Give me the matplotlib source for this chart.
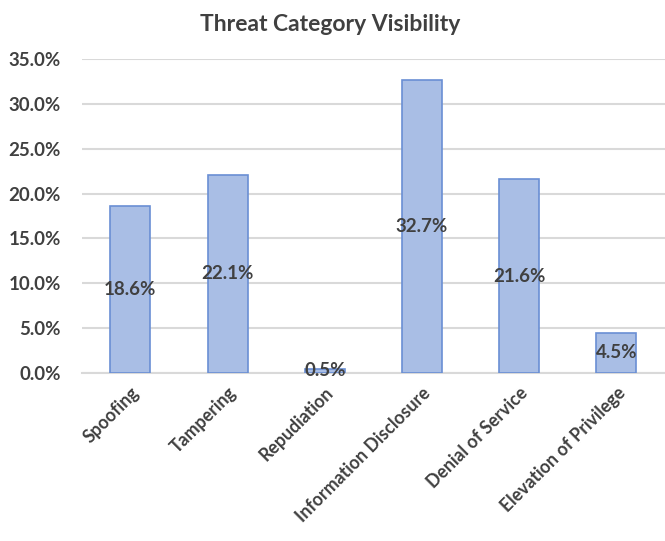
import matplotlib
matplotlib.use('Agg')
import matplotlib.pyplot as plt
from matplotlib.ticker import PercentFormatter

categories = ['Spoofing', 'Tampering', 'Repudiation', 'Information Disclosure',
              'Denial of Service', 'Elevation of Privilege']
values = [18.6, 22.1, 0.5, 32.7, 21.6, 4.5]
yticks = [0, 5, 10, 15, 20, 25, 30, 35]

plt.rcParams['font.family'] = ['Lato', 'DejaVu Sans']
text_color = '#404040'

fig = plt.figure(figsize=(6.65, 5.41), dpi=100)
ax = fig.add_axes([0.123, 0.3105, 0.877, 0.5805])

x = range(len(categories))
bars = ax.bar(x, values, width=0.41, color='#a9bee5', edgecolor='#6a8fd4',
              linewidth=1.2, zorder=3)

for b, v in zip(bars, values):
    ax.text(b.get_x() + b.get_width() / 2, v / 2, f'{v:.1f}%',
            ha='center', va='center', fontsize=13.5, fontweight='bold',
            color=text_color, zorder=4)

ax.set_xlim(-0.5, len(categories) - 0.5)
ax.set_ylim(0, 35)
ax.set_yticks(yticks)
ax.yaxis.set_major_formatter(PercentFormatter(decimals=1))
ax.grid(axis='y', color='#d9d9d9', linewidth=1.5, zorder=0)

ax.set_xticks(list(x))
ax.set_xticklabels(categories, rotation=45, ha='right', rotation_mode='anchor')
for lbl in ax.get_yticklabels():
    lbl.set_fontweight('bold')
    lbl.set_fontsize(13.5)
    lbl.set_color(text_color)
for lbl in ax.get_xticklabels():
    lbl.set_fontweight('bold')
    lbl.set_fontsize(12.8)
    lbl.set_color(text_color)

ax.tick_params(axis='both', length=0)
ax.tick_params(axis='y', pad=15)
ax.tick_params(axis='x', pad=8)
for s in ['top', 'right', 'left']:
    ax.spines[s].set_visible(False)
ax.spines['bottom'].set_color('#d9d9d9')
ax.spines['bottom'].set_linewidth(1.5)

fig.text(0.497, 0.955, 'Threat Category Visibility', ha='center', va='center',
         fontsize=16.5, fontweight='bold', color=text_color)

fig.savefig('out.png', dpi=100)
